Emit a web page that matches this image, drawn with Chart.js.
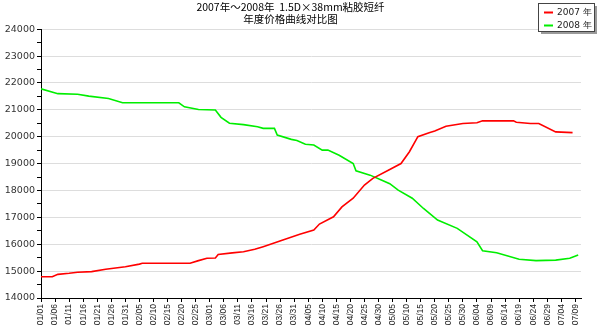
<!DOCTYPE html>
<html>
<head>
<meta charset="utf-8">
<script src="https://cdn.jsdelivr.net/npm/chart.js@4.4.1/dist/chart.umd.min.js"></script>
<style>
  body { margin: 0; background: #fff; }
</style>
</head>
<body>
<canvas id="myChart1" width="598" height="335"></canvas>
<script>
// day offsets from 01/01 (2008 calendar) and price readings
var days2007 = [0, 4, 6, 10, 13, 18, 23, 30, 35, 36, 53, 56, 59, 62, 63, 68, 72, 76, 79, 86, 92, 97, 99, 104, 107, 111, 115, 118, 124, 128, 131, 134, 138, 140, 144, 150, 155, 157, 168, 169, 174, 177, 183, 189];
var price2007 = [14790, 14790, 14880, 14920, 14960, 14980, 15070, 15160, 15260, 15290, 15290, 15390, 15480, 15490, 15620, 15680, 15720, 15810, 15910, 16160, 16370, 16530, 16750, 17020, 17390, 17710, 18200, 18450, 18780, 19000, 19440, 20000, 20150, 20210, 20390, 20490, 20520, 20590, 20590, 20540, 20490, 20490, 20180, 20150];

var days2008 = [0, 6, 13, 17, 24, 29, 49, 51, 56, 62, 64, 67, 72, 77, 79, 83, 84, 89, 91, 94, 97, 100, 102, 106, 111, 112, 117, 121, 124, 127, 132, 136, 141, 148, 155, 157, 162, 170, 176, 183, 188, 191];
var price2008 = [21780, 21600, 21580, 21510, 21420, 21260, 21260, 21110, 21010, 20990, 20720, 20500, 20450, 20370, 20310, 20310, 20060, 19900, 19860, 19720, 19690, 19500, 19500, 19310, 19000, 18730, 18570, 18390, 18250, 18010, 17710, 17330, 16900, 16590, 16090, 15760, 15680, 15440, 15390, 15410, 15480, 15600];

var seriesNames = ['2007 年', '2008 年'];
var titleLines = ['2007年～2008年  1.5D×38mm粘胶短纤', '年度价格曲线对比图'];

function toPoints(xs, ys) {
  return xs.map(function (d, i) { return { x: d, y: ys[i] }; });
}

function dayLabel(d) {
  var dt = new Date(2008, 0, 1 + d);
  var m = dt.getMonth() + 1, day = dt.getDate();
  return (m < 10 ? '0' : '') + m + '/' + (day < 10 ? '0' : '') + day;
}

// boxed legend in the top right corner
var boxLegend = {
  id: 'boxLegend',
  afterDraw: function (chart) {
    var c = chart.ctx;
    c.save();
    c.fillStyle = '#9a9a9a';
    c.fillRect(541, 6, 56, 28);
    c.fillStyle = '#fff';
    c.fillRect(538.5, 3.5, 56, 28);
    c.strokeStyle = '#444';
    c.lineWidth = 1;
    c.strokeRect(538.5, 3.5, 56, 28);
    c.font = '9px "DejaVu Sans"';
    c.textBaseline = 'middle';
    chart.data.datasets.forEach(function (ds, i) {
      var y = 12.5 + i * 13;
      c.strokeStyle = ds.borderColor;
      c.lineWidth = 2;
      c.beginPath();
      c.moveTo(544, y);
      c.lineTo(553, y);
      c.stroke();
      c.fillStyle = '#222';
      c.fillText(ds.label, 557, y);
    });
    c.restore();
  }
};

var ctx = document.querySelector('#myChart1').getContext('2d');
var myChart = new Chart(ctx, {
  type: 'line',
  data: {
    datasets: [{
      label: seriesNames[0],
      data: toPoints(days2007, price2007),
      borderColor: '#ff0000',
      borderWidth: 1.6,
      pointRadius: 0,
      tension: 0
    }, {
      label: seriesNames[1],
      data: toPoints(days2008, price2008),
      borderColor: '#00ee00',
      borderWidth: 1.6,
      pointRadius: 0,
      tension: 0
    }]
  },
  options: {
    responsive: false,
    animation: false,
    layout: {
      padding: { left: 0, right: 17, top: 0, bottom: 0 }
    },
    plugins: {
      legend: { display: false },
      tooltip: { enabled: false },
      title: {
        display: true,
        text: titleLines,
        color: '#000',
        font: { family: '"Noto Sans CJK SC"', size: 10.5, weight: 'normal', lineHeight: 1.15 },
        padding: { top: 1, bottom: 4 }
      }
    },
    scales: {
      x: {
        type: 'linear',
        min: 0,
        max: 192,
        afterFit: function (s) { s.height = 37; },
        border: { color: '#000' },
        grid: { drawOnChartArea: false, tickLength: 4, tickColor: '#000' },
        ticks: {
          stepSize: 5,
          includeBounds: false,
          autoSkip: false,
          maxRotation: 90,
          minRotation: 90,
          padding: 2,
          color: '#222',
          font: { family: '"Liberation Sans"', size: 8.5 },
          callback: function (v) { return dayLabel(v); }
        }
      },
      y: {
        min: 14000,
        max: 24000,
        afterFit: function (s) { s.width = 41; },
        border: { color: '#000' },
        grid: {
          tickLength: 4,
          tickColor: '#000',
          color: function (c) {
            return c.tick && c.tick.value % 1000 === 0 ? '#dddddd' : 'rgba(0,0,0,0)';
          }
        },
        ticks: {
          stepSize: 500,
          autoSkip: false,
          padding: 2,
          color: '#333',
          font: { family: '"DejaVu Sans"', size: 9.5 },
          callback: function (v) { return v % 1000 === 0 ? v : ''; }
        }
      }
    }
  },
  plugins: [boxLegend]
});
</script>
</body>
</html>
